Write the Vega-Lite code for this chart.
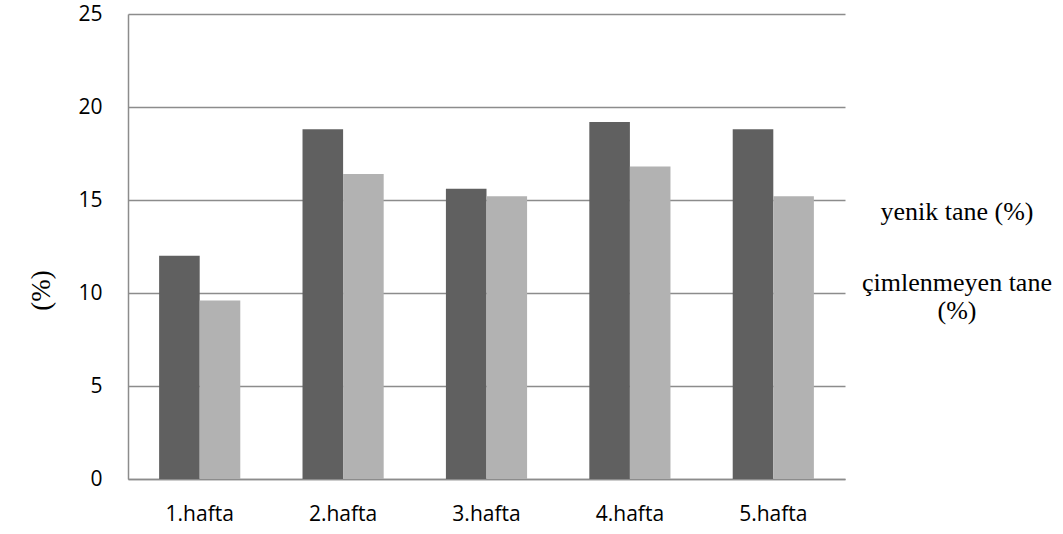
{
  "$schema": "https://vega.github.io/schema/vega-lite/v6.json",
  "width": 717,
  "height": 465,
  "autosize": "none",
  "padding": {"left": 128, "top": 14, "right": 218, "bottom": 55},
  "background": "white",
  "config": {"view": {"stroke": null}},
  "data": {"values": [
    {"week": "1.hafta", "series": "yenik tane  (%)", "value": 12.0},
    {"week": "1.hafta", "series": "çimlenmeyen tane (%)", "value": 9.6},
    {"week": "2.hafta", "series": "yenik tane  (%)", "value": 18.8},
    {"week": "2.hafta", "series": "çimlenmeyen tane (%)", "value": 16.4},
    {"week": "3.hafta", "series": "yenik tane  (%)", "value": 15.6},
    {"week": "3.hafta", "series": "çimlenmeyen tane (%)", "value": 15.2},
    {"week": "4.hafta", "series": "yenik tane  (%)", "value": 19.2},
    {"week": "4.hafta", "series": "çimlenmeyen tane (%)", "value": 16.8},
    {"week": "5.hafta", "series": "yenik tane  (%)", "value": 18.8},
    {"week": "5.hafta", "series": "çimlenmeyen tane (%)", "value": 15.2}
  ]},
  "mark": {"type": "bar"},
  "encoding": {
    "x": {
      "field": "week", "type": "nominal", "sort": null,
      "scale": {"paddingInner": 0.434, "paddingOuter": 0.217},
      "axis": {
        "title": null, "labelAngle": 0, "labelFont": "Open Sans", "labelFontSize": 21,
        "labelColor": "#000000", "ticks": false, "labelPadding": 24,
        "domainColor": "#8c8c8c", "domainWidth": 1.5, "grid": false
      }
    },
    "xOffset": {"field": "series", "type": "nominal", "sort": ["yenik tane  (%)", "çimlenmeyen tane (%)"]},
    "y": {
      "field": "value", "type": "quantitative",
      "scale": {"domain": [0, 25], "nice": false},
      "axis": {
        "values": [0, 5, 10, 15, 20, 25], "ticks": false, "labelPadding": 26,
        "labelFont": "Open Sans", "labelFontSize": 21, "labelColor": "#000000",
        "domainColor": "#8c8c8c", "domainWidth": 1.5,
        "gridColor": "#8c8c8c", "gridWidth": 1.5,
        "title": "(%)", "titleFont": "Liberation Serif", "titleFontSize": 27, "titleFontWeight": "normal",
        "titleColor": "#000000", "titleAngle": -90, "titleX": -87, "titleY": 276,
        "titleAlign": "center", "titleBaseline": "middle"
      }
    },
    "color": {
      "field": "series", "type": "nominal",
      "sort": ["yenik tane  (%)", "çimlenmeyen tane (%)"],
      "scale": {"domain": ["yenik tane  (%)", "çimlenmeyen tane (%)"], "range": ["#606060", "#b2b2b2"]},
      "legend": {
        "title": null, "orient": "none", "legendX": 803, "legendY": 185,
        "symbolOpacity": 0, "symbolSize": 0, "symbolStrokeWidth": 0,
        "labelFont": "Liberation Serif", "labelFontSize": 26, "labelColor": "#000000",
        "labelAlign": "center", "labelLimit": 400, "labelOffset": 0, "padding": 0,
        "labelLineHeight": 25,
        "labelExpr": "datum.label == 'çimlenmeyen tane (%)' ? ['çimlenmeyen tane', '(%)'] : datum.label",
        "rowPadding": 45
      }
    }
  }
}
